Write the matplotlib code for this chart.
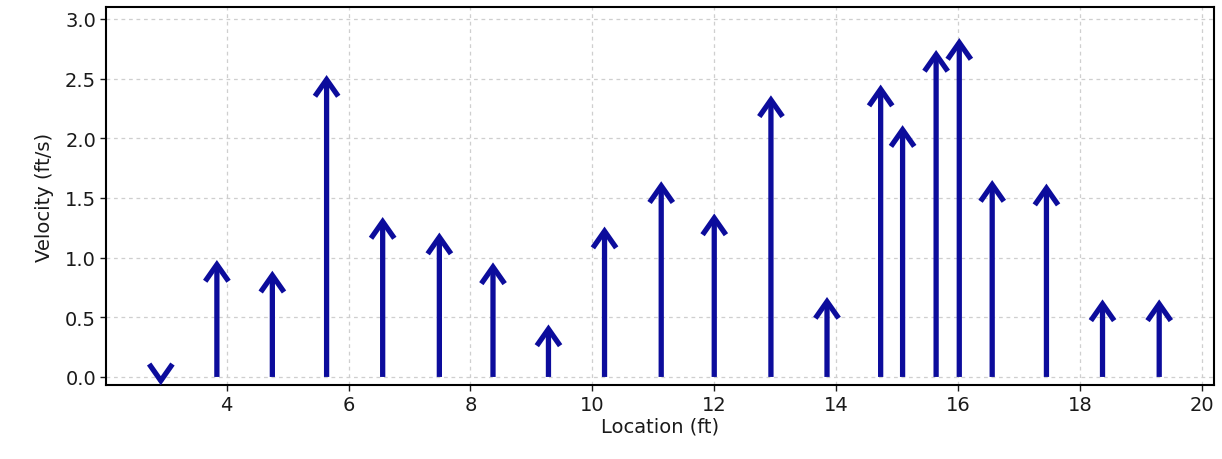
import matplotlib
matplotlib.use("Agg")
import matplotlib.pyplot as plt

# velocity vectors along the section
location = [2.92, 3.84, 4.75, 5.64, 6.56, 7.49, 8.37, 9.28, 10.20, 11.13, 12.00,
            12.93, 13.85, 14.73, 15.09, 15.64, 16.02, 16.56, 17.45, 18.37, 19.30]
velocity = [-0.07, 0.98, 0.89, 2.53, 1.34, 1.21, 0.96, 0.44, 1.26, 1.64, 1.37,
            2.36, 0.67, 2.45, 2.11, 2.74, 2.84, 1.65, 1.62, 0.65, 0.65]
xticks = [4, 6, 8, 10, 12, 14, 16, 18, 20]
yticks = [0.0, 0.5, 1.0, 1.5, 2.0, 2.5, 3.0]

plt.rcParams['font.family'] = ['DejaVu Sans']
fig = plt.figure(figsize=(12.22, 4.6), dpi=100)
ax = fig.add_axes([0.0867, 0.161, 0.9068, 0.8216])

arrow_color = '#0c0c9c'
for x, v in zip(location, velocity):
    ax.annotate('', xy=(x, v), xytext=(x, 0),
                arrowprops=dict(arrowstyle='->, head_length=0.6, head_width=0.42',
                                mutation_scale=20, color=arrow_color, lw=3.8,
                                shrinkA=0, shrinkB=0, capstyle='butt',
                                joinstyle='miter'))

ax.set_xlim(2.02, 20.2)
ax.set_ylim(-0.067, 3.1)
ax.set_xticks(xticks)
ax.set_yticks(yticks)
ax.set_yticklabels(['%.1f' % t for t in yticks])
ax.tick_params(labelsize=14, length=4, width=1, direction='out', colors='#1a1a1a',
               pad=3)
ax.grid(True, linestyle=(0, (3, 3)), color='#cfcfcf', linewidth=0.9)
ax.set_axisbelow(True)
for s in ax.spines.values():
    s.set_linewidth(1.5)
    s.set_color('black')

ax.set_xlabel('Location (ft)', fontsize=14, color='#1a1a1a', labelpad=2)
ax.set_ylabel('Velocity (ft/s)', fontsize=14, color='#1a1a1a', labelpad=8)

fig.savefig('out.png', dpi=100)
